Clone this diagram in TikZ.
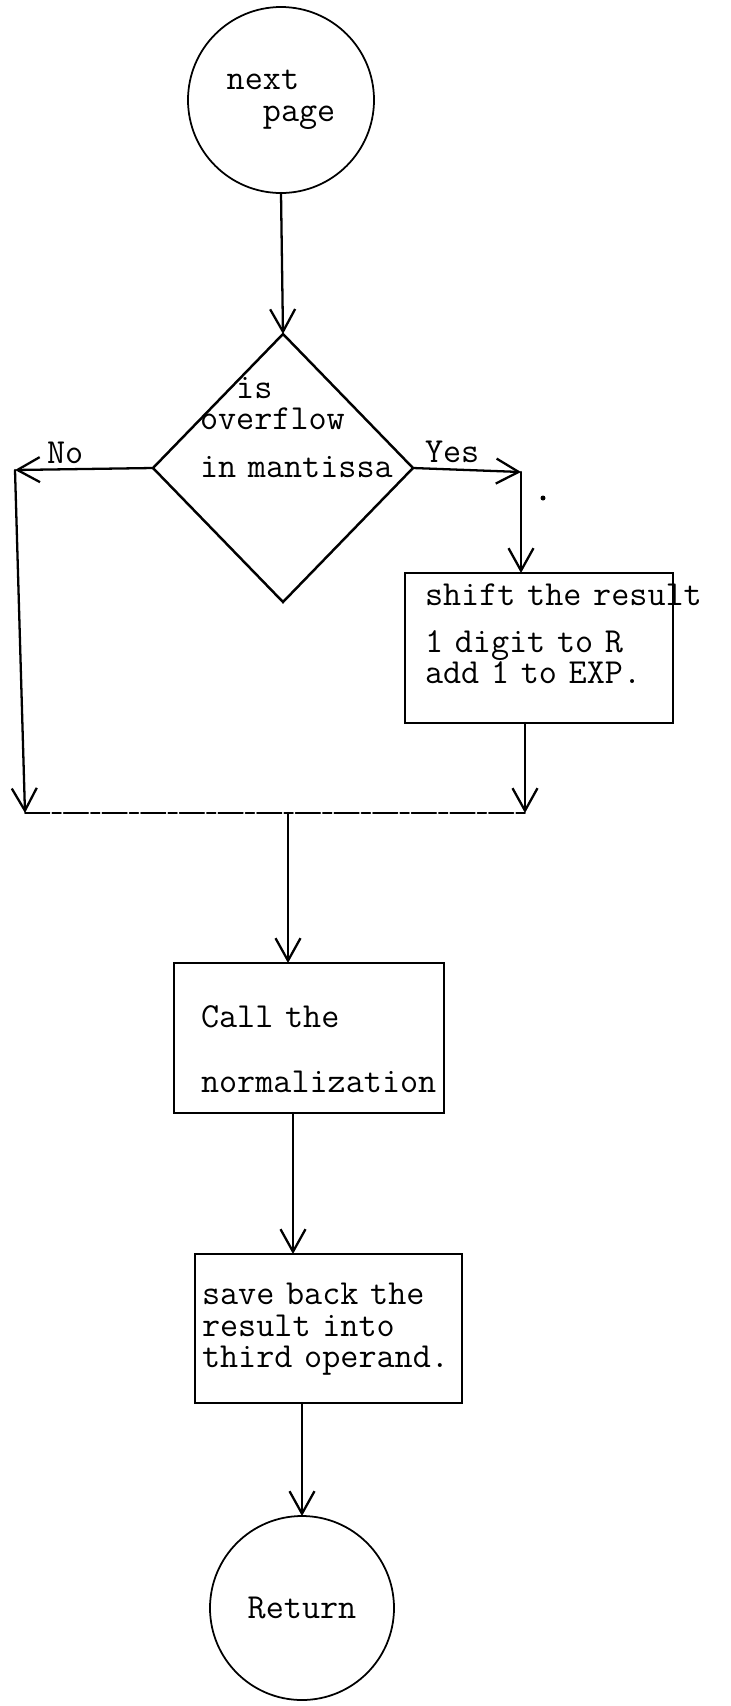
\documentclass[tikz,border=0pt]{standalone}
\usetikzlibrary{shapes.geometric,arrows.meta}
\newlength\pxu
\setlength\pxu{0.2mm}
\newcommand\typefont{\fontsize{20}{18.2}\selectfont\ttfamily\spaceskip=10.5pt\relax}

\begin{document}
\begin{tikzpicture}[x=0.2mm,y=-0.2mm,
		txt/.style={font=\typefont,inner sep=0pt,outer sep=0pt},
		terminal/.style={txt,circle,draw,line width=1pt,minimum size=186\pxu,align=left},
		decision/.style={diamond,draw,line width=1.4pt,minimum width=260\pxu,minimum height=268\pxu,inner sep=0pt,outer sep=0pt},
		process/.style={txt,rectangle,draw,line width=1.2pt,anchor=north west,align=left},
		arr/.style={line width=1.3pt,line cap=round,-{Straight Barb[length=4.5mm,width=5mm]}},
		line/.style={line width=1.3pt,line cap=round}]
		\useasboundingbox (0,0) rectangle (731,1706);

		\node[terminal] (next) at (281,100) {next\\\phantom{ne}page};
		\node[decision] (ovf) at (283,468) {};
		\node[txt,text width=45mm,align=left,anchor=base west] (ovftext) at (200,398) {\phantom{ov}is\\overflow\\[9.1pt]in mantissa};
		\node[txt,anchor=base west] (no) at (47,463) {No};
		\node[txt,anchor=base west] (yes) at (425,462) {Yes};

		\node[process,inner xsep=20\pxu,text width=228\pxu,text height=32\pxu,text depth=118\pxu] (shift) at (405,573) {\mbox{shift the result}\\[9.1pt]1 digit to R\\[-1.1pt]add 1 to EXP.};
		\node[process,inner xsep=27\pxu,text width=216\pxu,text height=64\pxu,text depth=86\pxu] (call) at (174,963) {Call the\\[18.8pt]\mbox{normalization}};
		\node[process,inner xsep=7\pxu,text width=253\pxu,text height=50\pxu,text depth=99\pxu] (save) at (195,1254) {save back the\\result into\\\mbox{third operand.}};
		\node[terminal,minimum size=184\pxu] (ret) at (302,1608) {Return};

		\coordinate (nocorner) at (15,470);
		\coordinate (nomerge) at (25,813);
		\coordinate (yescorner) at (521,472);
		\coordinate (yesmerge) at (525,813);
		\coordinate (callin) at (288,813);

		\draw[arr] (next.south) -- (ovf.north);
		\draw[arr] (ovf.west) -- (nocorner);
		\draw[arr] (nocorner) -- (nomerge);
		\draw[arr] (ovf.east) -- (yescorner);
		\draw[arr] (yescorner) -- (yescorner |- shift.north);
		\draw[arr] (yesmerge |- shift.south) -- (yesmerge);
		\draw[line,line width=0.9pt,dash pattern=on 14pt off 1.5pt on 5pt off 1.5pt] (nomerge) -- (yesmerge);
		\draw[arr] (callin) -- (callin |- call.north);
		\draw[arr] ([xshift=-16\pxu]call.south) -- ([xshift=-16\pxu]call.south |- save.north);
		\draw[arr] (save.south -| ret.north) -- (ret.north);
		\fill (543,498) circle (2.5);
	\end{tikzpicture}
\end{document}
